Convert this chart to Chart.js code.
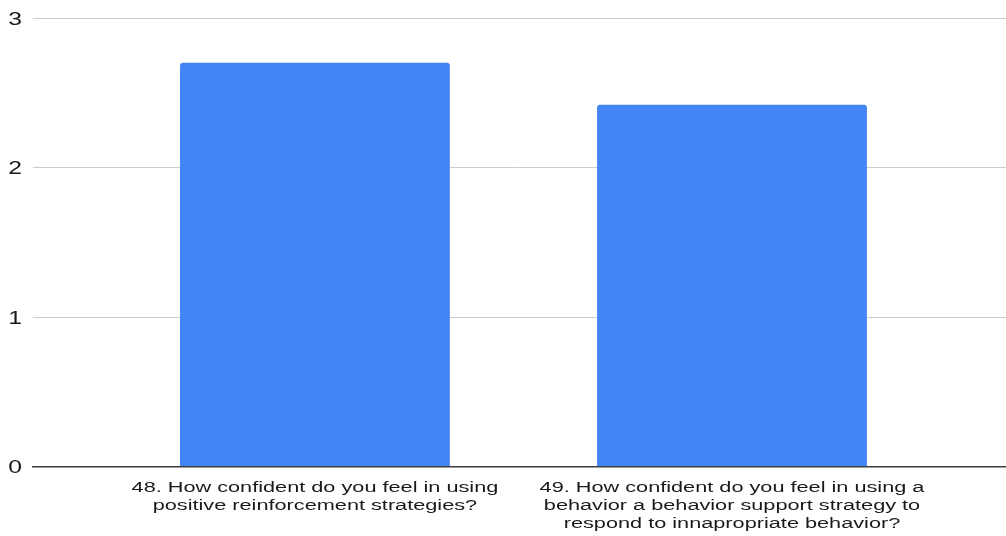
<!DOCTYPE html>
<html>
<head>
<meta charset="utf-8">
<script src="https://cdn.jsdelivr.net/npm/chart.js@4/dist/chart.umd.min.js"></script>
<style>
  html, body { margin: 0; padding: 0; background: #fff; }
  #wrap { width: 1006px; height: 536px; position: relative; }
</style>
</head>
<body>
<div id="wrap"><canvas id="c"></canvas></div>
<script>
// Survey questions (each entry is the wrapped lines of one label)
const categories = [
  ["48. How confident do you feel in using", "positive reinforcement strategies?"],
  ["49. How confident do you feel in using a", "behavior a behavior support strategy to", "respond to innapropriate behavior?"]
];
// Average confidence rating per question
const values = [2.7, 2.42];
// Value axis ticks
const yTicks = [0, 1, 2, 3];

const points = values.map((v, i) => ({ x: i, y: v }));
const FONT = "'Liberation Sans', Arial, sans-serif";
const TEXT_COLOR = '#1a1a1a';

// Axis labels are drawn with a wide (horizontally stretched) face
function stretchedText(ctx, text, x, y, size, sx, align) {
  ctx.save();
  ctx.font = size + 'px ' + FONT;
  ctx.fillStyle = TEXT_COLOR;
  ctx.textAlign = align;
  ctx.textBaseline = 'alphabetic';
  ctx.translate(x, y);
  ctx.scale(sx, 1);
  ctx.fillText(text, 0, 0);
  ctx.restore();
}

const axisLabels = {
  id: 'axisLabels',
  afterDraw(chart) {
    const ctx = chart.ctx;
    const xs = chart.scales.x, ys = chart.scales.y;
    categories.forEach((lines, i) => {
      const cx = xs.getPixelForValue(i);
      lines.forEach((line, j) => {
        stretchedText(ctx, line, cx, xs.top + 25 + j * 18.3, 15.5, 1.4, 'center');
      });
    });
    yTicks.forEach(v => {
      stretchedText(ctx, String(v), 22, ys.getPixelForValue(v) + 6.5, 19, 1.3, 'right');
    });
  }
};

new Chart(document.getElementById('c'), {
  type: 'bar',
  data: {
    datasets: [{
      data: points,
      backgroundColor: '#4285F4',
      borderRadius: { topLeft: 3, topRight: 3 },
      borderSkipped: 'bottom',
      categoryPercentage: 1,
      barPercentage: 0.647
    }]
  },
  options: {
    responsive: true,
    maintainAspectRatio: false,
    animation: false,
    layout: { padding: { top: 18, right: 0, left: 0, bottom: 0 } },
    plugins: { legend: { display: false }, tooltip: { enabled: false } },
    scales: {
      x: {
        type: 'linear',
        offset: false,
        min: -0.676,
        max: 1.657,
        afterBuildTicks: s => { s.ticks = categories.map((_, i) => ({ value: i })); },
        afterFit: s => { s.height = 69.5; },
        grid: { display: false, drawTicks: false },
        border: { display: true, color: '#3c3c3c', width: 1.5 },
        ticks: { display: false }
      },
      y: {
        min: 0,
        max: 3,
        afterBuildTicks: s => { s.ticks = yTicks.map(v => ({ value: v })); },
        afterFit: s => { s.width = 33; },
        border: { display: false },
        grid: {
          drawTicks: false,
          color: ctx => ctx.tick && ctx.tick.value === 0 ? 'rgba(0,0,0,0)' : '#cccccc',
          lineWidth: 1
        },
        ticks: { display: false }
      }
    }
  },
  plugins: [axisLabels]
});
</script>
</body>
</html>
